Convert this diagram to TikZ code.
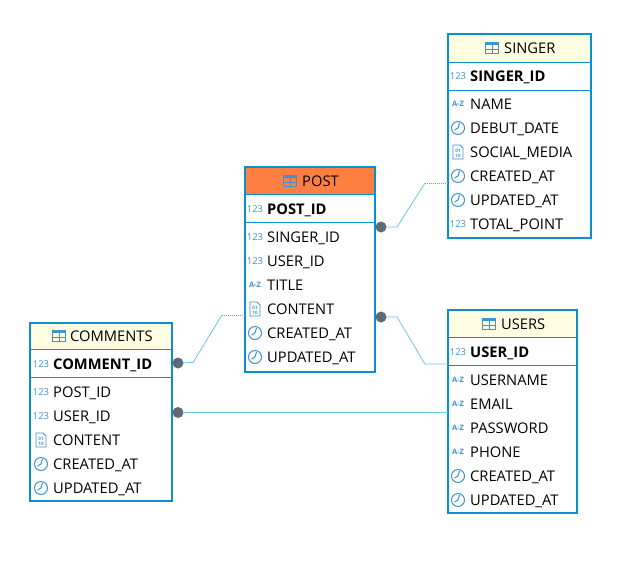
\documentclass[tikz,border=0pt]{standalone}
\usepackage{fontspec}
\setmainfont{Open Sans}
\definecolor{frameBlue}{HTML}{0A90D0}
\definecolor{iconBlue}{HTML}{3F93CF}
\definecolor{linkBlue}{HTML}{6CC5EA}
\definecolor{headYellow}{HTML}{FFFDE1}
\definecolor{headOrange}{HTML}{FF7F41}
\definecolor{dotGrey}{HTML}{5C6B76}
\tikzset{
    tablebox/.style={fill=white,anchor=north west,outer sep=0pt,inner sep=0pt},
    headbox/.style={draw=frameBlue,line width=1pt,anchor=north west,outer sep=0pt,inner sep=0pt},
    frameline/.style={draw=frameBlue,line width=2pt},
    colname/.style={anchor=base west,inner sep=0pt,font=\fontsize{14.7}{16}\selectfont,text=black},
    keyname/.style={colname,font=\fontsize{14.7}{16}\selectfont\bfseries},
    icontext/.style={inner sep=0pt,text=iconBlue,font=\fontsize{9.5}{10}\selectfont},
    linkdot/.style={circle,fill=dotGrey,minimum size=11pt,inner sep=0pt,outer sep=0pt},
    link/.style={draw=linkBlue,line width=0.8pt},
    linkdots/.style={draw=frameBlue!70,line width=0.8pt,line cap=butt,dash pattern=on 1pt off 1pt},
    icNum/.pic={\node[icontext] (-t) {123};},
    icAz/.pic={\node[icontext,font=\fontsize{7.5}{8}\selectfont\bfseries] (-t) {A-Z};},
    icClock/.pic={
        \draw[iconBlue,line width=1pt] (0,0) circle (6.5);
        \draw[iconBlue,line width=1pt] (1.5,-5) -- (0,0) -- (-3.5,2);
    },
    icBin/.pic={
        \draw[iconBlue,line width=0.8pt] (-5,-7) -- (2,-7) -- (5,-4) -- (5,7) -- (-5,7) -- cycle;
        \node[icontext,font=\fontsize{4.5}{4.8}\selectfont\bfseries,align=center] (-t) at (0,1) {01\\10};
    },
    icTable/.pic={
        \draw[iconBlue,line width=1pt] (-6.5,-5.5) rectangle (6.5,5.5);
        \fill[iconBlue] (-6.5,-5.5) rectangle (6.5,-3.5);
        \draw[iconBlue,line width=1pt] (-6.5,1) -- (6.5,1) (0,-3.5) -- (0,5.5);
    }
}
% one line of a table: name, icon x, y, icon, style, text
\newcommand{\colrow}[6]{
    \pic (#1Icon) at (#2,#3) {#4};
    \node[#5] (#1) at ({#2+12},{#3+5.7}) {#6};
}
\begin{document}
\begin{tikzpicture}[x=1pt,y=-1pt]
    \useasboundingbox (0,0) rectangle (637,568);

    % tables
    \node[tablebox,minimum width=143pt,minimum height=204pt] (singerBox) at (447.5,34.3) {};
    \node[headbox,fill=headYellow,minimum width=143pt,minimum height=28pt] (singerHead) at (447.5,34.3) {};
    \node[tablebox,minimum width=130.5pt,minimum height=204.5pt] (postBox) at (244.5,167) {};
    \node[headbox,fill=headOrange,minimum width=130.5pt,minimum height=27.5pt] (postHead) at (244.5,167) {};
    \node[tablebox,minimum width=141.5pt,minimum height=178.6pt] (commentsBox) at (30.3,322.7) {};
    \node[headbox,fill=headYellow,minimum width=141.5pt,minimum height=27pt] (commentsHead) at (30.3,322.7) {};
    \node[tablebox,minimum width=129.6pt,minimum height=203pt] (usersBox) at (447.7,310.3) {};
    \node[headbox,fill=headYellow,minimum width=129.6pt,minimum height=27.2pt] (usersHead) at (447.7,310.3) {};
    \draw[frameline] (singerBox.north west) rectangle (singerBox.south east);
    \draw[frameline] (postBox.north west) rectangle (postBox.south east);
    \draw[frameline] (commentsBox.north west) rectangle (commentsBox.south east);
    \draw[frameline] (usersBox.north west) rectangle (usersBox.south east);

    % line below the key column
    \draw[frameBlue,line width=1pt] (singerBox.west |- 0,90) -- (singerBox.east |- 0,90);
    \draw[frameBlue,line width=1pt] (postBox.west |- 0,222) -- (postBox.east |- 0,222);
    \draw[frameBlue,line width=1pt] (commentsBox.west |- 0,377.5) -- (commentsBox.east |- 0,377.5);
    \draw[frameBlue,line width=1pt] (usersBox.west |- 0,365.5) -- (usersBox.east |- 0,365.5);

    % SINGER
    \pic (singerTitleIcon) at (492,48) {icTable};
    \node[colname] (singerTitle) at (504,53.7) {SINGER};
    \colrow{singerId}{458}{76}{icNum}{keyname}{SINGER\_ID}
    \colrow{singerName}{458}{104}{icAz}{colname}{NAME}
    \colrow{singerDebut}{458}{128}{icClock}{colname}{DEBUT\_DATE}
    \colrow{singerSocial}{458}{152}{icBin}{colname}{SOCIAL\_MEDIA}
    \colrow{singerCreated}{458}{176}{icClock}{colname}{CREATED\_AT}
    \colrow{singerUpdated}{458}{200}{icClock}{colname}{UPDATED\_AT}
    \colrow{singerPoint}{458}{224}{icNum}{colname}{TOTAL\_POINT}

    % POST
    \pic (postTitleIcon) at (290,181) {icTable};
    \node[colname] (postTitle) at (302,186.7) {POST};
    \colrow{postId}{255}{209}{icNum}{keyname}{POST\_ID}
    \colrow{postSinger}{255}{237}{icNum}{colname}{SINGER\_ID}
    \colrow{postUser}{255}{261}{icNum}{colname}{USER\_ID}
    \colrow{postTitleCol}{255}{285}{icAz}{colname}{TITLE}
    \colrow{postContent}{255}{309}{icBin}{colname}{CONTENT}
    \colrow{postCreated}{255}{333}{icClock}{colname}{CREATED\_AT}
    \colrow{postUpdated}{255}{357}{icClock}{colname}{UPDATED\_AT}

    % COMMENTS
    \pic (commentsTitleIcon) at (59,336) {icTable};
    \node[colname] (commentsTitle) at (70,341.7) {COMMENTS};
    \colrow{commentId}{41}{364}{icNum}{keyname}{COMMENT\_ID}
    \colrow{commentPost}{41}{392}{icNum}{colname}{POST\_ID}
    \colrow{commentUser}{41}{416}{icNum}{colname}{USER\_ID}
    \colrow{commentContent}{41}{440}{icBin}{colname}{CONTENT}
    \colrow{commentCreated}{41}{464}{icClock}{colname}{CREATED\_AT}
    \colrow{commentUpdated}{41}{488}{icClock}{colname}{UPDATED\_AT}

    % USERS
    \pic (usersTitleIcon) at (489,324) {icTable};
    \node[colname] (usersTitle) at (501,329.7) {USERS};
    \colrow{userId}{458}{352}{icNum}{keyname}{USER\_ID}
    \colrow{userName}{458}{380}{icAz}{colname}{USERNAME}
    \colrow{userEmail}{458}{404}{icAz}{colname}{EMAIL}
    \colrow{userPassword}{458}{428}{icAz}{colname}{PASSWORD}
    \colrow{userPhone}{458}{452}{icAz}{colname}{PHONE}
    \colrow{userCreated}{458}{476}{icClock}{colname}{CREATED\_AT}
    \colrow{userUpdated}{458}{500}{icClock}{colname}{UPDATED\_AT}

    % relations
    \coordinate (singerA) at (397,227);
    \coordinate (singerB) at (425,183);
    \coordinate (usersA) at (397,317);
    \coordinate (usersB) at (425,364);
    \coordinate (commentsA) at (193,362.5);
    \coordinate (commentsB) at (222,315);

    \node[linkdot] (postDotTop) at (381,227) {};
    \node[linkdot] (postDotBottom) at (381,317) {};
    \node[linkdot] (commentDotTop) at (178,363) {};
    \node[linkdot] (commentDotBottom) at (178,412.5) {};

    \draw[link] (postDotTop) -- (singerA) -- (singerB);
    \draw[linkdots] (singerB) -- (singerBox.west |- singerB);
    \draw[link] (postDotBottom) -- (usersA) -- (usersB) -- (usersBox.west |- usersB);
    \draw[link] (commentDotTop) -- (commentsA) -- (commentsB);
    \draw[linkdots] (commentsB) -- (postBox.west |- commentsB);
    \draw[link] (commentDotBottom) -- (usersBox.west |- commentDotBottom);
\end{tikzpicture}
\end{document}
